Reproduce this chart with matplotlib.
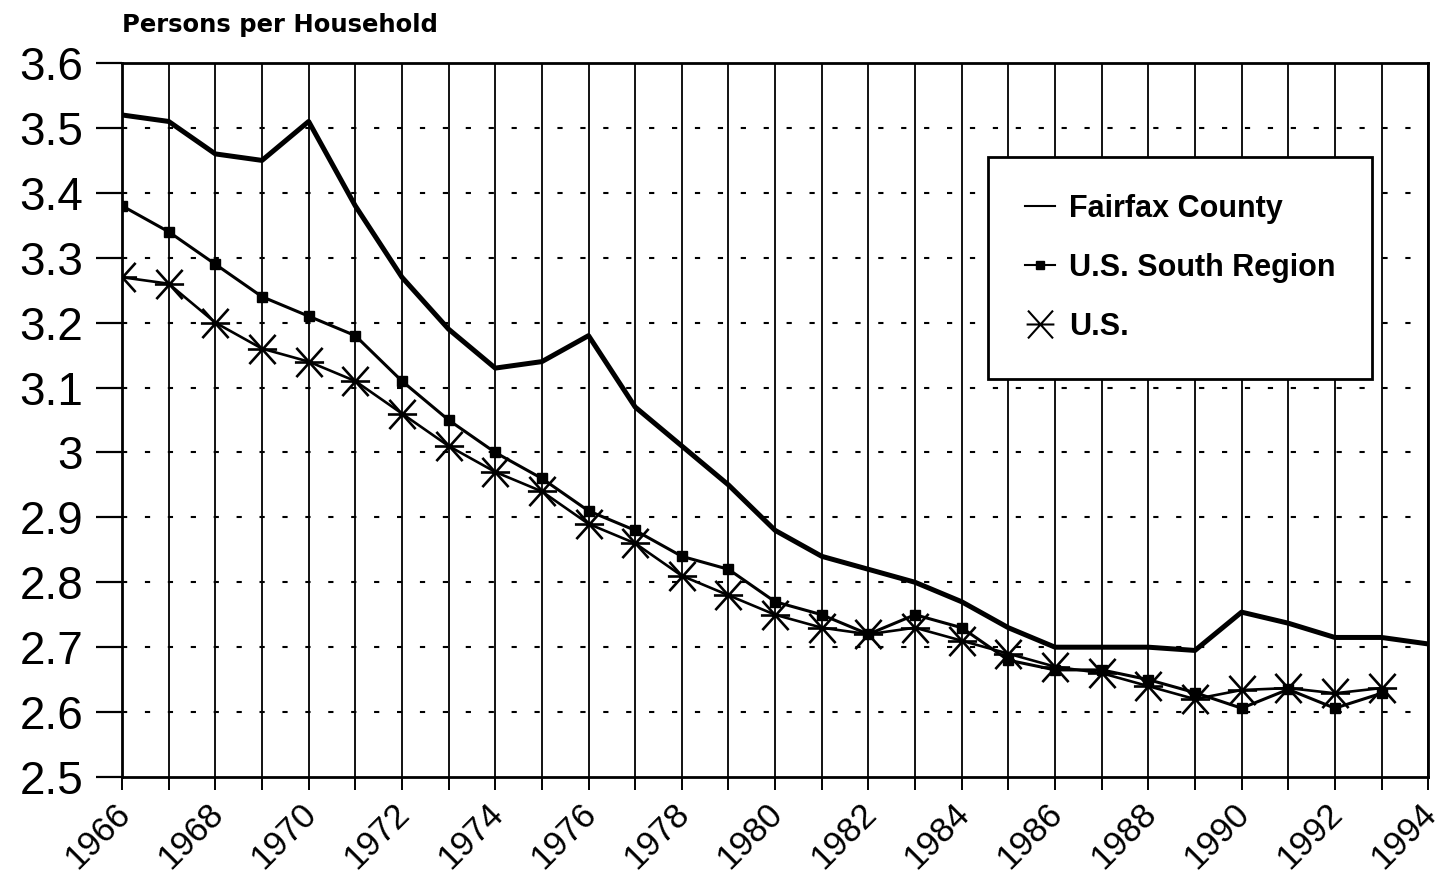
import matplotlib
matplotlib.use("Agg")
import matplotlib.pyplot as plt
import matplotlib.transforms as mtransforms
from matplotlib.lines import Line2D
from matplotlib.path import Path
from matplotlib.ticker import MultipleLocator

years = list(range(1966, 1995))
fairfax = [3.52, 3.51, 3.46, 3.45, 3.51, 3.38, 3.27, 3.19, 3.13, 3.14, 3.18, 3.07,
           3.01, 2.95, 2.88, 2.84, 2.82, 2.80, 2.77, 2.73, 2.70, 2.70, 2.70, 2.695,
           2.754, 2.737, 2.715, 2.715, 2.705]
south_years = list(range(1966, 1994))
south = [3.38, 3.34, 3.29, 3.24, 3.21, 3.18, 3.11, 3.05, 3.00, 2.96, 2.91, 2.88,
         2.84, 2.82, 2.77, 2.75, 2.72, 2.75, 2.73, 2.68, 2.665, 2.665, 2.65, 2.63,
         2.606, 2.635, 2.606, 2.629]
us_years = list(range(1966, 1994))
us = [3.27, 3.26, 3.20, 3.16, 3.14, 3.11, 3.06, 3.01, 2.97, 2.94, 2.89, 2.86,
      2.81, 2.78, 2.75, 2.73, 2.72, 2.73, 2.71, 2.69, 2.67, 2.66, 2.64, 2.62,
      2.634, 2.637, 2.629, 2.637]
yticks = [2.5, 2.6, 2.7, 2.8, 2.9, 3.0, 3.1, 3.2, 3.3, 3.4, 3.5, 3.6]
ytick_labels = ["2.5", "2.6", "2.7", "2.8", "2.9", "3", "3.1", "3.2", "3.3", "3.4", "3.5", "3.6"]
xtick_years = list(range(1966, 1995, 2))

plt.rcParams['font.family'] = ['Liberation Sans', 'DejaVu Sans']

fig = plt.figure(figsize=(14.48, 8.88), dpi=100)
ax = fig.add_axes([0.0843, 0.125, 0.9020, 0.804])

# asterisk marker: X plus horizontal bar
star = Path([(-1, 0), (1, 0), (-0.9, -1), (0.9, 1), (-0.9, 1), (0.9, -1)],
            [Path.MOVETO, Path.LINETO, Path.MOVETO, Path.LINETO, Path.MOVETO, Path.LINETO])

# grid
for y in yticks[1:-1]:
    ax.axhline(y, color='black', lw=1.5, linestyle=(0, (2.5, 8.5)), zorder=1)
for x in years:
    ax.axvline(x, color='black', lw=1.3, zorder=1)

ax.plot(years, fairfax, color='black', lw=3.6, zorder=3)
ax.plot(south_years, south, color='black', lw=2.2, marker='s', markersize=7.5, zorder=4)
ax.plot(us_years, us, color='black', lw=1.9, marker=star, markersize=21,
        markeredgewidth=1.9, zorder=5)

ax.set_xlim(1966, 1994)
ax.set_ylim(2.5, 3.6)
ax.set_yticks(yticks)
ax.set_yticklabels(ytick_labels, fontsize=33)
ax.set_xticks(xtick_years)
ax.xaxis.set_minor_locator(MultipleLocator(1))
ax.set_xticklabels([])
# rotated year labels, anchored just below the ticks
base = mtransforms.blended_transform_factory(ax.transData, ax.transAxes)
off = mtransforms.ScaledTranslation(-9 / 100, -20 / 100, fig.dpi_scale_trans)
for yr in xtick_years:
    ax.text(yr, 0, str(yr), transform=base + off, fontsize=25, rotation=45,
            ha='right', va='top', rotation_mode='anchor', clip_on=False)
ax.tick_params(axis='y', direction='out', length=19, width=1.6, pad=9)
ax.tick_params(axis='x', which='both', direction='out', length=9, width=1.4, pad=5)
for s in ax.spines.values():
    s.set_linewidth(2)

fig.text(0.0843, 0.958, "Persons per Household", fontsize=17.5, fontweight='bold',
         family=['DejaVu Sans'], ha='left', va='bottom')

handles = [
    Line2D([], [], color='black', lw=1.5),
    Line2D([], [], color='black', lw=1.5, marker='s', markersize=6),
    Line2D([], [], color='none', marker=star, markersize=20, markeredgecolor='black',
           markeredgewidth=1.5),
]
leg = ax.legend(handles, ["Fairfax County", "U.S. South Region", "U.S."],
                loc='upper left', bbox_to_anchor=(0.663, 0.868), frameon=True,
                fancybox=False, edgecolor='black', framealpha=1,
                prop={'size': 22, 'weight': 'bold'}, handlelength=1.0,
                handletextpad=0.45, labelspacing=0.95, borderpad=1.2,
                borderaxespad=0)
leg.get_frame().set_linewidth(2)
leg.set_zorder(10)

fig.savefig("out.png", dpi=100)
